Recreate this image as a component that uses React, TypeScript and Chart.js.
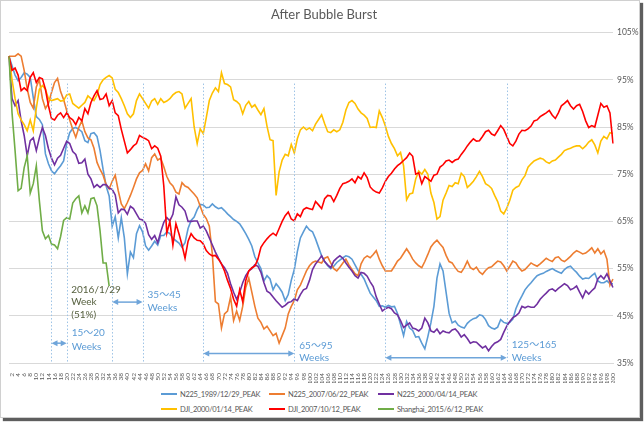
import React, { useEffect, useRef } from 'react';
import { Chart, registerables } from 'chart.js';

Chart.register(...registerables);

// ---------- data ----------
const WEEKS = Array.from({ length: 200 }, (_, i) => i + 1);

const N225_1989 = [
  100, 98, 96, 94.8, 95.5, 96.5, 96.2, 95.5, 91.2, 87.2,
  86.6, 85.5, 79.3, 77.2, 75.7, 75.1, 76, 76.8, 77.8, 81.5,
  83.8, 84.7, 84.9, 84.5, 84, 82.1, 81.7, 83.6, 83.8, 83,
  80, 76, 72.5, 70.4, 64, 66, 61.5, 65.8, 61.5, 53.9,
  58.5, 57.3, 62.4, 64.1, 62.8, 59.8, 58.9, 59.8, 60.8, 60,
  62, 62, 62.8, 62.4, 61.4, 60.9, 60.4, 59.5, 60.5, 63.5,
  65.2, 65.9, 67.5, 68.6, 68.5, 67.9, 68, 68.7, 68.1, 67.7,
  67.9, 67.3, 66.6, 66, 65.4, 65, 64.5, 63.5, 62.4, 61.2,
  59.8, 57.5, 56.2, 55, 52.4, 53.5, 52.8, 50.5, 51.8, 51,
  50, 48.2, 49.5, 52.5, 54.8, 58.6, 61.5, 62.8, 64, 63.2,
  62.8, 61.3, 59.5, 57.7, 56.5, 55.6, 55, 55.5, 56.3, 56.8,
  57.3, 57.7, 57.5, 57, 55.8, 54.6, 53.8, 52.8, 51.3, 49.8,
  49, 48.2, 47, 47.1, 46.8, 47.2, 46.9, 47, 45.5, 43.2,
  40.8, 43.8, 42.4, 41.9, 40.5, 40.6, 39.2, 38, 40.6, 43.5,
  47, 53, 56, 54.5, 50, 45.5, 43.5, 43.9, 43, 42.6,
  42.4, 43.4, 44, 44.4, 44.6, 45.2, 45, 44.2, 42.9, 42.4,
  42.2, 42.6, 44.2, 43.6, 43.4, 43.6, 44.3, 46.5, 48, 49.2,
  50.5, 51.3, 52, 52.8, 53.5, 53.8, 54, 54.4, 54.7, 55,
  54.6, 54.3, 54, 54.8, 55.3, 55.5, 54.8, 54.2, 53.4, 52.8,
  53, 52.9, 53.5, 54, 52.4, 52, 52, 52.4, 51.8, 51.8,
];

const N225_2007 = [
  100, 100, 100, 100.5, 100, 97, 93.1, 90.2, 89, 93.5,
  95, 91, 88.9, 90, 92.3, 94.4, 95.3, 92.5, 90.8, 88.5,
  86.5, 84.5, 82.8, 84.9, 86.3, 84, 82.7, 82.3, 80.5, 77.5,
  76, 74.8, 72.8, 71.9, 73.5, 74.8, 71.5, 68.7, 67.7, 69,
  70.5, 72.2, 74, 75.3, 75.8, 77.2, 75.7, 78.5, 79.3, 78,
  78.4, 76.6, 74.5, 73.2, 72.5, 71.2, 70.8, 73.2, 72.5, 72.2,
  71.5, 70.8, 70, 68.2, 66.5, 65.6, 64, 58, 48, 47.5,
  42.4, 45.4, 46, 49, 44, 46, 44, 47, 51, 53,
  50, 47, 44.5, 43.6, 42.2, 42.8, 41.8, 40.8, 41.3, 39.2,
  40.8, 42.4, 45.4, 47, 48.2, 50.5, 51.5, 53, 54.5, 55.6,
  56.3, 56.6, 56.4, 56.2, 57.2, 57.5, 56.2, 55, 54.5, 55.3,
  56.2, 57, 55.8, 54.8, 53.9, 53.5, 56, 57.2, 57.7, 57.3,
  58, 58.8, 57, 55.6, 54.5, 54.5, 54.5, 55.5, 56.6, 57.2,
  58.2, 59.2, 58.2, 57, 56.2, 55.6, 55.2, 56.5, 58, 59.6,
  60.4, 61, 60.2, 59.5, 57.8, 56.5, 56.2, 55.2, 54.4, 54.2,
  55.2, 56.6, 55.2, 54.8, 55.3, 54.3, 53.8, 54.6, 55.2, 55.4,
  56, 56.6, 56.4, 55.6, 54.5, 55.5, 56.6, 56.2, 55.2, 54.5,
  54.8, 55.5, 56.2, 55.8, 55.5, 56, 56.6, 57.2, 56.8, 56.5,
  57.3, 57.5, 56.8, 56.5, 57, 57.6, 58.3, 58.8, 58.5, 58.1,
  58.3, 58.8, 59.4, 58.3, 59.2, 58.1, 58.8, 57, 51.5, 52.8,
];

const N225_2000 = [
  100, 91, 89.5, 90.6, 86.3, 83.2, 78.9, 82.1, 82.7, 80,
  82.7, 84.9, 83.2, 80.4, 78.4, 77, 78.4, 79, 80.5, 82,
  81.5, 79.8, 79.2, 77.3, 77.4, 78.2, 75, 74, 72.2, 72.8,
  72.2, 72.8, 72.8, 72, 71.8, 70.6, 66.8, 67.6, 67.5, 66.5,
  68.2, 67.7, 66.6, 65.5, 65.3, 64.6, 62.2, 61.2, 62, 60.5,
  62.8, 64.8, 65.8, 65.1, 66.5, 70.2, 68.5, 68, 67.2, 65,
  65, 65.1, 65.1, 63.6, 64, 63, 61.5, 60, 58.5, 57.2,
  56, 55.2, 54, 51.8, 50, 48.5, 50, 52, 53.5, 54.5,
  55, 55.8, 55.5, 54.2, 52, 50.2, 49.8, 49, 48.2, 47.5,
  46.8, 47.2, 47.8, 48, 48.6, 48.2, 49.5, 50.5, 50.8, 52.5,
  54.8, 56, 56.8, 57.7, 56.5, 55.8, 55.2, 56.6, 57.2, 57.7,
  57.2, 56.2, 55.3, 54.5, 53.5, 53, 54.2, 54, 53.4, 52.2,
  51.2, 49, 47.5, 46, 46.5, 46.8, 46.5, 45.6, 45.2, 44,
  42.5, 43, 43.5, 42.4, 42.2, 41.8, 42.4, 44.5, 43.5, 41.8,
  41.5, 42.2, 41.2, 41.8, 41.5, 41.4, 42, 42.2, 41.5, 40.5,
  41, 40.2, 39.2, 39.5, 39.4, 38.8, 38.2, 38.6, 37.6, 38.5,
  39.2, 39.5, 40, 41.5, 42.8, 43.8, 44.6, 45, 45.6, 47,
  46.7, 47, 46.8, 46.8, 47.5, 48.5, 49.2, 49.8, 50.5, 50.7,
  50.2, 50.8, 51.3, 51.8, 51.4, 50.5, 50.8, 51.3, 50, 48.8,
  50.3, 49.6, 50.3, 50.9, 52.8, 53.5, 52.8, 53.9, 52.4, 51,
];

const DJI_2000 = [
  100, 95, 91, 87.8, 86.5, 85.5, 84.2, 86.5, 84.2, 89,
  93, 93.8, 93, 91, 90.6, 90.8, 91, 90.5, 90.6, 91.8,
  92, 90, 89.5, 89, 89.6, 90.2, 91.6, 91, 90.6, 91.8,
  94, 95, 95.5, 95.9, 95.4, 93, 92.3, 91, 89.5, 87.8,
  87, 87.8, 90.6, 92, 91, 90, 89, 90.5, 91, 89.8,
  91, 90.2, 90.5, 91, 91.8, 92.3, 92.5, 92, 89, 90,
  91, 85, 81.5, 84.6, 83.6, 87, 90.6, 92.2, 93.3, 92.5,
  96.5, 94.2, 94, 93.5, 90.8, 90.4, 89.8, 87.8, 89.6, 90.4,
  89.2, 89.7, 88.6, 87.6, 88.9, 85.2, 82.3, 82.1, 70.5, 75.5,
  78, 79.2, 78.9, 81.3, 79.5, 82.5, 84.4, 85, 84.4, 84.8,
  84.2, 85.6, 86.6, 87.6, 85.7, 84, 83.8, 84.4, 84, 84.4,
  86, 88.6, 90.2, 90.6, 90, 88.8, 88, 87.5, 86.8, 84.9,
  85, 84.9, 88.4, 87, 85.2, 83, 81.5, 80.4, 78.9, 79.6,
  76.8, 69.6, 70.8, 71, 74, 75.7, 75, 76, 75, 71,
  69, 65.5, 66, 69.5, 71, 72.6, 72.4, 73.2, 73, 75.2,
  74.5, 72.2, 72.8, 73.5, 74.5, 75.6, 74.5, 73, 72.6, 72,
  70.5, 69.2, 67.2, 66.6, 67.8, 69.5, 71.6, 72.2, 72.5, 73.8,
  74.7, 76.5, 77.2, 77.8, 78.1, 78.4, 78.2, 77.6, 77.3, 77.8,
  78, 78.6, 79.2, 80, 80.3, 80.5, 80.8, 81, 81, 80.4,
  81, 81.8, 82.3, 81.2, 79.5, 82, 83, 82.5, 83.8, 83.6,
];

const DJI_2007 = [
  100, 97, 97.5, 96, 92.7, 93.3, 92.7, 95.5, 96.5, 94.4,
  95.5, 95.2, 93, 89.5, 86.8, 86.5, 87.5, 88, 87, 88,
  87, 86.5, 85.5, 87, 86.3, 88.9, 87.8, 90.2, 91.6, 92.7,
  90.8, 91, 92, 89.5, 90.6, 88, 87.4, 84.5, 82, 79.5,
  80.2, 81, 81.5, 83.2, 82.8, 82.5, 82.1, 80.4, 81, 80.5,
  78.8, 72.5, 62.5, 65, 60, 64.5, 62.4, 60, 57.2, 60.8,
  62.4, 61.5, 61, 60.9, 60.2, 58.8, 58.1, 57.7, 57.8, 57,
  56, 54.5, 52.5, 50.8, 48.5, 47, 50.5, 48, 52.5, 54.5,
  55.2, 55.5, 57, 59.5, 60.5, 61.3, 62, 62.5, 62, 63.5,
  65, 66.2, 67, 65.5, 65.1, 66.6, 66, 67.5, 67.9, 67.7,
  67.5, 69.2, 68.5, 67.7, 69.8, 70.5, 70.4, 69.2, 70.5, 72,
  73, 73.2, 73.5, 74, 73.2, 74.5, 74, 75.3, 74.3, 72.3,
  71.6, 71.2, 71, 72.1, 73.5, 74.5, 75.2, 76.1, 76.8, 77.3,
  77.9, 78.5, 79.5, 78.8, 75, 75.3, 73, 74.5, 74, 73.5,
  74.8, 75, 76.5, 77, 77.8, 78, 77.5, 78, 78.2, 79.2,
  80, 81, 81.8, 82.5, 82, 82.1, 83, 84, 84.3, 83.5,
  83.2, 84.2, 85.3, 84.5, 83, 81.5, 81, 82, 83.5, 84.3,
  84.2, 84.6, 85.2, 86.3, 86.5, 87.2, 87.6, 88, 88.5, 87.5,
  86.8, 88, 89.5, 90, 90.6, 89.5, 88.8, 89.5, 89.8, 88.3,
  86.3, 84.9, 85.3, 85, 87.5, 90, 89.2, 89.5, 88, 81.5,
];

const SHANGHAI_2015 = [
  100, 88, 80, 71.5, 72, 76.4, 78.9, 71, 73, 76.8,
  69.4, 63, 61.3, 62, 60.2, 60, 59.2, 61.8, 65.2, 65.8,
  65.5, 68.9, 69.8, 70.4, 66.8, 68.3, 66.8, 69.8, 70, 68.3,
  63, 56.2, 56.2, 51.3,
];

const SERIES_NAMES = [
  'N225_1989/12/29_PEAK',
  'N225_2007/06/22_PEAK',
  'N225_2000/04/14_PEAK',
  'DJI_2000/01/14_PEAK',
  'DJI_2007/10/12_PEAK',
  'Shanghai_2015/6/12_PEAK',
];
const SERIES_DATA = [N225_1989, N225_2007, N225_2000, DJI_2000, DJI_2007, SHANGHAI_2015];
const SERIES_COLORS = ['#5B9BD5', '#ED7D31', '#7030A0', '#FFC000', '#FF0000', '#70AD47'];

const Y_TICKS = [35, 45, 55, 65, 75, 85, 95, 105];

// annotation content (weeks, % levels)
const MARK_WEEKS = [15, 20, 35, 45, 65, 95, 125, 165];
const RANGES = [
  { from: 15, to: 20, arrowAt: 39.2, lines: ['15～20', 'Weeks'], linesAt: [41.3, 38.5] },
  { from: 35, to: 45, arrowAt: 47.9, lines: ['35～45', 'Weeks'], linesAt: [49.5, 46.8] },
  { from: 65, to: 95, arrowAt: 37.0, lines: ['65～95', 'Weeks'], linesAt: [38.6, 36.0] },
  { from: 125, to: 165, arrowAt: 36.1, lines: ['125～165', 'Weeks'], linesAt: [38.8, 36.2] },
];
const NOTE = { week: 21.5, lines: ['2016/1/29', 'Week', '(51%)'], linesAt: [50.5, 47.9, 45.3] };

const FONT = 'Lato, "Noto Sans CJK JP", sans-serif';

const annotationPlugin = {
  id: 'weekAnnotations',
  afterDatasetsDraw(chart: any) {
    const { ctx, chartArea } = chart;
    const xs = chart.scales.x;
    const ys = chart.scales.y;
    const px = (w: number) => xs.getPixelForValue(w - 1);
    const py = (v: number) => ys.getPixelForValue(v);
    ctx.save();
    // dotted verticals
    ctx.strokeStyle = '#9DC3E6';
    ctx.lineWidth = 1;
    ctx.setLineDash([1.5, 2]);
    MARK_WEEKS.forEach((w) => {
      const x = Math.round(px(w)) + 0.5;
      ctx.beginPath();
      ctx.moveTo(x, py(94.2));
      ctx.lineTo(x, chartArea.bottom);
      ctx.stroke();
    });
    ctx.setLineDash([]);
    // arrows
    RANGES.forEach((r) => {
      const x1 = px(r.from);
      const x2 = px(r.to);
      const y = py(r.arrowAt);
      ctx.strokeStyle = '#6FA5DA';
      ctx.fillStyle = '#6FA5DA';
      ctx.lineWidth = 1.5;
      ctx.beginPath();
      ctx.moveTo(x1 + 4, y);
      ctx.lineTo(x2 - 4, y);
      ctx.stroke();
      ctx.beginPath();
      ctx.moveTo(x1, y);
      ctx.lineTo(x1 + 6, y - 3);
      ctx.lineTo(x1 + 6, y + 3);
      ctx.closePath();
      ctx.fill();
      ctx.beginPath();
      ctx.moveTo(x2, y);
      ctx.lineTo(x2 - 6, y - 3);
      ctx.lineTo(x2 - 6, y + 3);
      ctx.closePath();
      ctx.fill();
      ctx.fillStyle = '#5B9BD5';
      ctx.font = '10px ' + FONT;
      ctx.textAlign = 'left';
      ctx.textBaseline = 'middle';
      r.lines.forEach((t, i) => ctx.fillText(t, x2 + 5, py(r.linesAt[i])));
    });
    // note
    ctx.fillStyle = '#56603F';
    ctx.font = '10px ' + FONT;
    ctx.textAlign = 'left';
    ctx.textBaseline = 'middle';
    NOTE.lines.forEach((t, i) => ctx.fillText(t, px(NOTE.week), py(NOTE.linesAt[i])));
    ctx.restore();
  },
};

export default function App() {
  const ref = useRef<HTMLCanvasElement | null>(null);

  useEffect(() => {
    if (!ref.current) return;
    Chart.defaults.font.family = FONT;
    const chart = new Chart(ref.current, {
      type: 'line',
      data: {
        labels: WEEKS.map(String),
        datasets: SERIES_NAMES.map((name, i) => ({
          label: name,
          data: SERIES_DATA[i],
          borderColor: SERIES_COLORS[i],
          backgroundColor: SERIES_COLORS[i],
          borderWidth: 1.6,
          pointRadius: 0,
          pointHoverRadius: 0,
          fill: false,
          tension: 0,
          order: SERIES_NAMES.length - 1 - i,
        })),
      },
      options: {
        responsive: false,
        animation: false,
        layout: { padding: { left: 8, right: 0, top: 2, bottom: 0 } },
        plugins: {
          legend: { display: false },
          tooltip: { enabled: false },
          title: {
            display: true,
            text: 'After Bubble Burst',
            color: '#595959',
            font: { size: 13, weight: 'normal', family: FONT },
            padding: { top: 4, bottom: 10 },
          },
        },
        scales: {
          x: {
            type: 'category',
            offset: false,
            grid: { display: false },
            border: { display: true, color: '#D9D9D9' },
            ticks: {
              autoSkip: false,
              minRotation: 90,
              maxRotation: 90,
              padding: 2,
              color: '#595959',
              font: { size: 6.5, family: FONT },
              callback: (_v: any, idx: number) => (idx % 2 === 1 ? String(WEEKS[idx]) : ''),
            },
            afterFit: (s: any) => {
              s.height = 20;
            },
          },
          y: {
            position: 'right',
            min: 35,
            max: 105,
            afterBuildTicks: (s: any) => {
              s.ticks = Y_TICKS.map((v) => ({ value: v }));
            },
            grid: { color: '#D9D9D9', drawTicks: false },
            border: { display: false },
            ticks: {
              padding: 4,
              color: '#595959',
              font: { size: 8.5, family: FONT },
              callback: (v: any) => v + '%',
            },
            afterFit: (s: any) => {
              s.width = 26;
            },
          },
        },
      },
      plugins: [annotationPlugin],
    } as any);
    return () => chart.destroy();
  }, []);

  const legendCols = [160, 268, 377];
  const legendRows = [386, 401];

  return (
    <div
      style={{
        position: 'absolute',
        left: 0,
        top: 0,
        width: 638,
        height: 416,
        background: '#fff',
        border: '1px solid #D0D0D0',
        boxShadow: '3px 3px 1px #5E5E5E',
        overflow: 'hidden',
        fontFamily: FONT,
      }}
    >
      <canvas ref={ref} width={638} height={382} style={{ display: 'block' }} />
      {SERIES_NAMES.map((name, i) => (
        <div
          key={name}
          style={{
            position: 'absolute',
            left: legendCols[i % 3],
            top: legendRows[Math.floor(i / 3)],
            height: 14,
            display: 'flex',
            alignItems: 'center',
            fontSize: 7.5,
            letterSpacing: -0.3,
            color: '#595959',
            whiteSpace: 'nowrap',
          }}
        >
          <span
            style={{
              display: 'inline-block',
              width: 16,
              height: 2,
              background: SERIES_COLORS[i],
              marginRight: 3,
            }}
          />
          {name}
        </div>
      ))}
    </div>
  );
}
